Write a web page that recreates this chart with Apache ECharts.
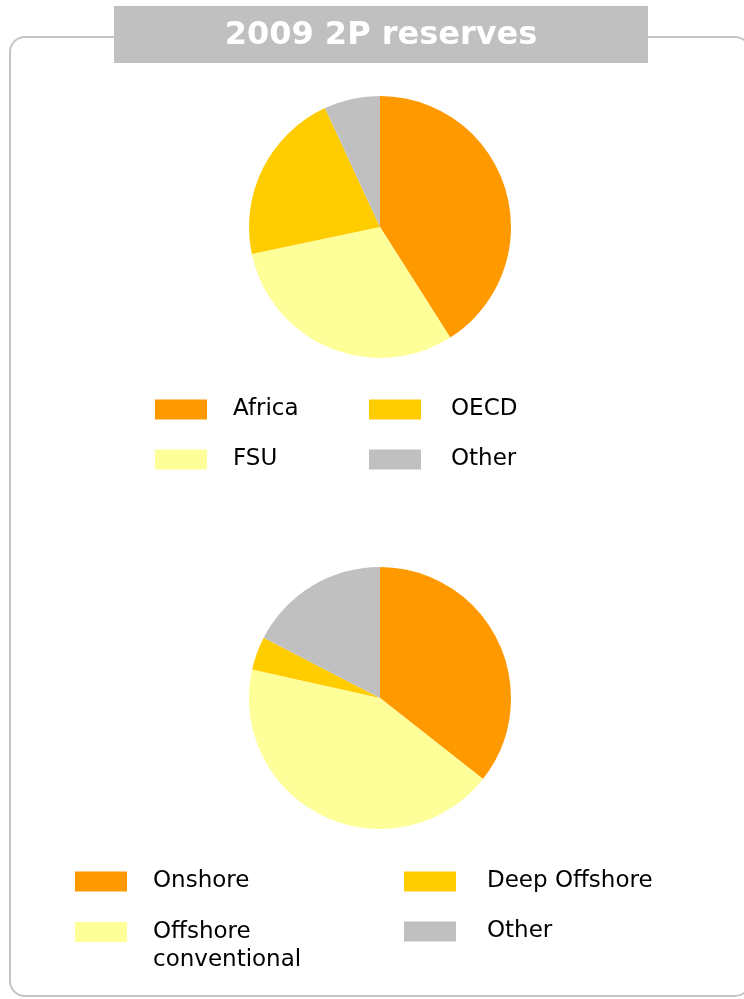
<!DOCTYPE html>
<html>
<head>
<meta charset="utf-8">
<script src="https://cdn.jsdelivr.net/npm/echarts@6/dist/echarts.min.js"></script>
<style>
html, body { margin: 0; padding: 0; background: #fff; }
#chart { width: 744px; height: 999px; }
</style>
</head>
<body>
<div id="chart"></div>
<script>
// share of 2P reserves (%)
var regionNames = ["Africa", "FSU", "OECD", "Other"];
var regionValues = [41.0, 30.7, 21.4, 6.9];

var locationNames = ["Onshore", "Offshore conventional", "Deep Offshore", "Other"];
var locationValues = [35.6, 42.9, 4.1, 17.4];

var titleText = "2009 2P reserves";

var colorMap = {
    "Africa": "#FF9900",
    "OECD": "#FFCC00",
    "FSU": "#FFFF99",
    "Onshore": "#FF9900",
    "Deep Offshore": "#FFCC00",
    "Offshore conventional": "#FFFF99",
    "Other": "#C0C0C0"
};

function toData(names, values) {
    return names.map(function (n, i) {
        return { name: n, value: values[i], itemStyle: { color: colorMap[n] } };
    });
}

var font = "DejaVu Sans";

function legendCol(names, left, top, pad) {
    return {
        orient: "vertical",
        left: left,
        top: top,
        padding: 0,
        itemWidth: 52,
        itemHeight: 20,
        itemGap: 27,
        icon: "rect",
        selectedMode: false,
        data: names,
        textStyle: { fontFamily: font, fontSize: 23, color: "#000", lineHeight: 20, padding: [0, 0, 0, pad] }
    };
}

var myChart = echarts.init(document.getElementById("chart"));

var option = {
    animation: false,
    graphic: [
        {
            type: "rect",
            shape: { x: 10, y: 37, width: 740, height: 959, r: 15 },
            style: { fill: "none", stroke: "#c4c4c4", lineWidth: 2 },
            z: 1
        },
        {
            type: "rect",
            shape: { x: 114, y: 6, width: 534, height: 57 },
            style: { fill: "#C0C0C0" },
            z: 2
        },
        {
            type: "text",
            x: 381,
            y: 36,
            style: {
                text: titleText,
                fill: "#fff",
                font: "bold 32px 'DejaVu Sans'",
                align: "center",
                verticalAlign: "middle"
            },
            z: 3
        }
    ],
    legend: [
        legendCol(["Africa", "FSU"], 155, 398, 21),
        legendCol(["OECD", "Other"], 369, 398, 25),
        legendCol(["Onshore"], 75, 870, 21),
        {
            // two-line label; a blank first line keeps "Offshore" level with the swatch
            orient: "vertical",
            left: 75,
            top: 890,
            padding: 0,
            itemWidth: 52,
            itemHeight: 20,
            icon: "rect",
            selectedMode: false,
            data: ["Offshore conventional"],
            formatter: function () { return "\nOffshore\nconventional"; },
            textStyle: { fontFamily: font, fontSize: 23, color: "#000", lineHeight: 28, padding: [0, 0, 0, 21] }
        },
        legendCol(["Deep Offshore", "Other"], 404, 870, 26)
    ],
    series: [
        {
            name: "Region",
            type: "pie",
            center: [380, 227],
            radius: 131,
            startAngle: 90,
            clockwise: true,
            label: { show: false },
            labelLine: { show: false },
            emphasis: { disabled: true },
            itemStyle: { borderWidth: 0 },
            data: toData(regionNames, regionValues)
        },
        {
            name: "Location",
            type: "pie",
            center: [380, 698],
            radius: 131,
            startAngle: 90,
            clockwise: true,
            label: { show: false },
            labelLine: { show: false },
            emphasis: { disabled: true },
            itemStyle: { borderWidth: 0 },
            data: toData(locationNames, locationValues)
        }
    ]
};

myChart.setOption(option);
</script>
</body>
</html>
